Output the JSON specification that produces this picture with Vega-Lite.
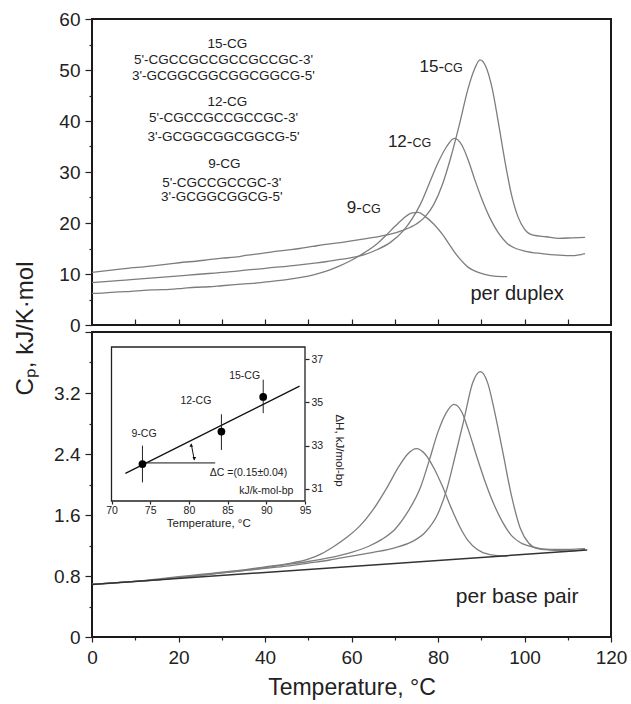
{
  "$schema": "https://vega.github.io/schema/vega-lite/v6.json",
  "background": "white",
  "padding": {"left": 12, "top": 9, "right": 2, "bottom": 2},
  "bounds": "flush",
  "spacing": 7,
  "config": {
    "font": "Liberation Sans",
    "view": {"stroke": "#1a1a1a", "strokeWidth": 2},
    "axis": {
      "grid": false, "domain": false,
      "labelFont": "Liberation Sans", "titleFont": "Liberation Sans",
      "labelColor": "#222", "titleColor": "#222", "tickColor": "#222",
      "titleFontWeight": "normal", "labelFontSize": 19, "titleFontSize": 24,
      "tickSize": 7, "labelPadding": 5, "labelFlush": false, "labelOverlap": false, "tickWidth": 1.2
    },
    "text": {"color": "#222", "font": "Liberation Sans"}
  },
  "datasets": {
    "duplex": [
      {"s":"15","T":0,"Cp":10.3},{"s":"15","T":3,"Cp":10.6},{"s":"15","T":6,"Cp":10.9},{"s":"15","T":9,"Cp":11.2},{"s":"15","T":12,"Cp":11.4},{"s":"15","T":15,"Cp":11.7},{"s":"15","T":18,"Cp":12.0},{"s":"15","T":21,"Cp":12.3},{"s":"15","T":24,"Cp":12.5},{"s":"15","T":27,"Cp":12.8},{"s":"15","T":30,"Cp":13.1},{"s":"15","T":33,"Cp":13.3},{"s":"15","T":36,"Cp":13.7},{"s":"15","T":39,"Cp":14.0},{"s":"15","T":42,"Cp":14.4},{"s":"15","T":45,"Cp":14.7},{"s":"15","T":48,"Cp":15.0},{"s":"15","T":51,"Cp":15.4},{"s":"15","T":54,"Cp":15.8},{"s":"15","T":57,"Cp":16.1},{"s":"15","T":60,"Cp":16.5},{"s":"15","T":63,"Cp":16.9},{"s":"15","T":66,"Cp":17.3},{"s":"15","T":69,"Cp":17.8},{"s":"15","T":72,"Cp":18.6},{"s":"15","T":75,"Cp":19.8},{"s":"15","T":77,"Cp":21.2},{"s":"15","T":79,"Cp":23.6},{"s":"15","T":81,"Cp":27.5},{"s":"15","T":83,"Cp":33.0},{"s":"15","T":85,"Cp":39.5},{"s":"15","T":87,"Cp":46.5},{"s":"15","T":88.5,"Cp":50.3},{"s":"15","T":89.7,"Cp":52.0},{"s":"15","T":91,"Cp":50.8},{"s":"15","T":92.5,"Cp":46.5},{"s":"15","T":94,"Cp":39.5},{"s":"15","T":95.5,"Cp":32.0},{"s":"15","T":97,"Cp":25.5},{"s":"15","T":98.5,"Cp":21.2},{"s":"15","T":100,"Cp":18.8},{"s":"15","T":102,"Cp":17.6},{"s":"15","T":105,"Cp":17.3},{"s":"15","T":108,"Cp":17.0},{"s":"15","T":111,"Cp":17.1},{"s":"15","T":114,"Cp":17.2},
      {"s":"12","T":0,"Cp":8.3},{"s":"12","T":3,"Cp":8.5},{"s":"12","T":6,"Cp":8.7},{"s":"12","T":9,"Cp":8.9},{"s":"12","T":12,"Cp":9.1},{"s":"12","T":15,"Cp":9.3},{"s":"12","T":18,"Cp":9.5},{"s":"12","T":21,"Cp":9.7},{"s":"12","T":24,"Cp":9.9},{"s":"12","T":27,"Cp":10.1},{"s":"12","T":30,"Cp":10.3},{"s":"12","T":33,"Cp":10.5},{"s":"12","T":36,"Cp":10.8},{"s":"12","T":39,"Cp":11.0},{"s":"12","T":42,"Cp":11.3},{"s":"12","T":45,"Cp":11.5},{"s":"12","T":48,"Cp":11.8},{"s":"12","T":51,"Cp":12.1},{"s":"12","T":54,"Cp":12.4},{"s":"12","T":57,"Cp":12.8},{"s":"12","T":60,"Cp":13.2},{"s":"12","T":63,"Cp":13.8},{"s":"12","T":66,"Cp":14.8},{"s":"12","T":69,"Cp":16.2},{"s":"12","T":72,"Cp":18.5},{"s":"12","T":74,"Cp":20.8},{"s":"12","T":76,"Cp":23.8},{"s":"12","T":78,"Cp":27.8},{"s":"12","T":80,"Cp":31.8},{"s":"12","T":82,"Cp":35.0},{"s":"12","T":83.8,"Cp":36.6},{"s":"12","T":85.5,"Cp":35.3},{"s":"12","T":87,"Cp":32.3},{"s":"12","T":88.5,"Cp":28.5},{"s":"12","T":90,"Cp":25.0},{"s":"12","T":92,"Cp":21.0},{"s":"12","T":94,"Cp":18.0},{"s":"12","T":96,"Cp":16.0},{"s":"12","T":98,"Cp":15.0},{"s":"12","T":100,"Cp":14.5},{"s":"12","T":104,"Cp":14.0},{"s":"12","T":108,"Cp":13.7},{"s":"12","T":111,"Cp":13.6},{"s":"12","T":114,"Cp":14.0},
      {"s":"9","T":0,"Cp":6.2},{"s":"9","T":3,"Cp":6.3},{"s":"9","T":6,"Cp":6.5},{"s":"9","T":9,"Cp":6.6},{"s":"9","T":12,"Cp":6.8},{"s":"9","T":15,"Cp":6.9},{"s":"9","T":18,"Cp":7.0},{"s":"9","T":21,"Cp":7.2},{"s":"9","T":24,"Cp":7.4},{"s":"9","T":27,"Cp":7.5},{"s":"9","T":30,"Cp":7.7},{"s":"9","T":33,"Cp":7.9},{"s":"9","T":36,"Cp":8.1},{"s":"9","T":39,"Cp":8.3},{"s":"9","T":42,"Cp":8.6},{"s":"9","T":45,"Cp":8.9},{"s":"9","T":48,"Cp":9.3},{"s":"9","T":51,"Cp":9.8},{"s":"9","T":54,"Cp":10.5},{"s":"9","T":57,"Cp":11.5},{"s":"9","T":60,"Cp":12.7},{"s":"9","T":63,"Cp":14.2},{"s":"9","T":66,"Cp":16.0},{"s":"9","T":68,"Cp":17.6},{"s":"9","T":70,"Cp":19.3},{"s":"9","T":72,"Cp":20.9},{"s":"9","T":74,"Cp":22.0},{"s":"9","T":75.5,"Cp":22.1},{"s":"9","T":77,"Cp":21.3},{"s":"9","T":79,"Cp":19.8},{"s":"9","T":81,"Cp":17.8},{"s":"9","T":83,"Cp":15.3},{"s":"9","T":85,"Cp":13.0},{"s":"9","T":87,"Cp":11.3},{"s":"9","T":89,"Cp":10.4},{"s":"9","T":91,"Cp":9.9},{"s":"9","T":93,"Cp":9.6},{"s":"9","T":96,"Cp":9.5}
    ],
    "bp": [
      {"s":"9","T":0,"Cp":0.69},{"s":"9","T":5,"Cp":0.71},{"s":"9","T":10,"Cp":0.73},{"s":"9","T":15,"Cp":0.76},{"s":"9","T":20,"Cp":0.79},{"s":"9","T":25,"Cp":0.82},{"s":"9","T":30,"Cp":0.85},{"s":"9","T":35,"Cp":0.88},{"s":"9","T":40,"Cp":0.92},{"s":"9","T":45,"Cp":0.96},{"s":"9","T":50,"Cp":1.02},{"s":"9","T":53,"Cp":1.09},{"s":"9","T":56,"Cp":1.19},{"s":"9","T":59,"Cp":1.31},{"s":"9","T":62,"Cp":1.46},{"s":"9","T":65,"Cp":1.67},{"s":"9","T":68,"Cp":1.94},{"s":"9","T":71,"Cp":2.24},{"s":"9","T":73,"Cp":2.40},{"s":"9","T":75,"Cp":2.47},{"s":"9","T":77,"Cp":2.40},{"s":"9","T":79,"Cp":2.22},{"s":"9","T":81,"Cp":1.98},{"s":"9","T":83,"Cp":1.70},{"s":"9","T":85,"Cp":1.45},{"s":"9","T":87,"Cp":1.26},{"s":"9","T":89,"Cp":1.15},{"s":"9","T":92,"Cp":1.08},{"s":"9","T":96,"Cp":1.06},
      {"s":"12","T":0,"Cp":0.69},{"s":"12","T":5,"Cp":0.71},{"s":"12","T":10,"Cp":0.73},{"s":"12","T":15,"Cp":0.75},{"s":"12","T":20,"Cp":0.78},{"s":"12","T":25,"Cp":0.81},{"s":"12","T":30,"Cp":0.84},{"s":"12","T":35,"Cp":0.87},{"s":"12","T":40,"Cp":0.91},{"s":"12","T":45,"Cp":0.95},{"s":"12","T":50,"Cp":0.99},{"s":"12","T":55,"Cp":1.04},{"s":"12","T":60,"Cp":1.11},{"s":"12","T":64,"Cp":1.19},{"s":"12","T":67,"Cp":1.28},{"s":"12","T":70,"Cp":1.41},{"s":"12","T":73,"Cp":1.64},{"s":"12","T":76,"Cp":1.97},{"s":"12","T":78,"Cp":2.32},{"s":"12","T":80,"Cp":2.69},{"s":"12","T":82,"Cp":2.95},{"s":"12","T":83.7,"Cp":3.05},{"s":"12","T":85.5,"Cp":2.95},{"s":"12","T":87,"Cp":2.72},{"s":"12","T":89,"Cp":2.36},{"s":"12","T":91,"Cp":2.02},{"s":"12","T":93,"Cp":1.73},{"s":"12","T":95,"Cp":1.50},{"s":"12","T":97,"Cp":1.33},{"s":"12","T":99,"Cp":1.24},{"s":"12","T":102,"Cp":1.18},{"s":"12","T":106,"Cp":1.15},{"s":"12","T":110,"Cp":1.15},{"s":"12","T":114,"Cp":1.16},
      {"s":"15","T":0,"Cp":0.69},{"s":"15","T":5,"Cp":0.71},{"s":"15","T":10,"Cp":0.73},{"s":"15","T":15,"Cp":0.75},{"s":"15","T":20,"Cp":0.78},{"s":"15","T":25,"Cp":0.81},{"s":"15","T":30,"Cp":0.84},{"s":"15","T":35,"Cp":0.87},{"s":"15","T":40,"Cp":0.90},{"s":"15","T":45,"Cp":0.93},{"s":"15","T":50,"Cp":0.97},{"s":"15","T":55,"Cp":1.01},{"s":"15","T":60,"Cp":1.06},{"s":"15","T":65,"Cp":1.11},{"s":"15","T":70,"Cp":1.17},{"s":"15","T":74,"Cp":1.25},{"s":"15","T":77,"Cp":1.37},{"s":"15","T":80,"Cp":1.62},{"s":"15","T":82,"Cp":1.93},{"s":"15","T":84,"Cp":2.38},{"s":"15","T":86,"Cp":2.85},{"s":"15","T":88,"Cp":3.33},{"s":"15","T":89.8,"Cp":3.48},{"s":"15","T":91.5,"Cp":3.33},{"s":"15","T":93,"Cp":2.98},{"s":"15","T":95,"Cp":2.42},{"s":"15","T":97,"Cp":1.85},{"s":"15","T":99,"Cp":1.43},{"s":"15","T":101,"Cp":1.23},{"s":"15","T":103,"Cp":1.16},{"s":"15","T":106,"Cp":1.14},{"s":"15","T":110,"Cp":1.13},{"s":"15","T":114,"Cp":1.15}
    ],
    "base": [{"T":0,"Cp":0.69},{"T":114.5,"Cp":1.14}],
    "peakLabels": [
      {"T":81.4,"Cp":49.7,"num":"15-","cg":"CG"},
      {"T":74.1,"Cp":35.0,"num":"12-","cg":"CG"},
      {"T":62.4,"Cp":22.0,"num":"9-","cg":"CG"}
    ],
    "sequences": [
      {"T":31.3,"Cp":55.1,"text":"15-CG"},
      {"T":30.4,"Cp":52.0,"text":"5'-CGCCGCCGCCGCCGC-3'"},
      {"T":30.4,"Cp":48.8,"text":"3'-GCGGCGGCGGCGGCG-5'"},
      {"T":31.3,"Cp":43.8,"text":"12-CG"},
      {"T":30.4,"Cp":40.5,"text":"5'-CGCCGCCGCCGC-3'"},
      {"T":30.4,"Cp":36.9,"text":"3'-GCGGCGGCGGCG-5'"},
      {"T":30.6,"Cp":31.5,"text":"9-CG"},
      {"T":30.0,"Cp":27.9,"text":"5'-CGCCGCCGC-3'"},
      {"T":30.0,"Cp":25.1,"text":"3'-GCGGCGGCG-5'"}
    ],
    "inset": [
      {"t":74.0,"h":32.15,"lo":31.3,"hi":33.0,"label":"9-CG"},
      {"t":84.2,"h":33.65,"lo":32.8,"hi":34.45,"label":"12-CG"},
      {"t":89.6,"h":35.25,"lo":34.5,"hi":36.05,"label":"15-CG"}
    ],
    "insetText": [
      {"t":74.2,"h":33.55,"text":"9-CG"},
      {"t":80.9,"h":35.08,"text":"12-CG"},
      {"t":87.2,"h":36.2,"text":"15-CG"},
      {"t":87.7,"h":31.72,"text":"ΔC =(0.15±0.04)"},
      {"t":90.0,"h":30.92,"text":"kJ/k-mol-bp"}
    ]
  },
  "resolve": {"scale": {"x": "independent", "y": "independent"}},
  "vconcat": [
    {
      "width": 519,
      "height": 306,
      "resolve": {"axis": {"y": "independent"}},
      "layer": [
        {
          "data": {"name": "duplex"},
          "mark": {"type": "line", "color": "#7d7d7d", "strokeWidth": 1.3, "interpolate": "monotone"},
          "encoding": {
            "x": {"field": "T", "type": "quantitative", "scale": {"domain": [0, 120], "nice": false, "zero": false},
                  "axis": {"orient": "bottom", "values": [10,20,30,40,50,60,70,80,90,100,110], "labels": false, "tickSize": -6, "title": null}},
            "y": {"field": "Cp", "type": "quantitative", "scale": {"domain": [0, 60], "nice": false},
                  "axis": {"orient": "left", "values": [0,10,20,30,40,50,60], "title": "Cₚ,  kJ/K·mol", "titleX": -67, "titleY": 309, "titleAngle": -90, "titleAlign": "center", "titleBaseline": "middle", "titleFontSize": 24}},
            "detail": {"field": "s", "type": "nominal"}
          }
        },
        {
          "data": {"name": "duplex"},
          "mark": {"type": "line", "strokeOpacity": 0},
          "encoding": {
            "x": {"field": "T", "type": "quantitative"},
            "y": {"field": "Cp", "type": "quantitative", "axis": {"orient": "left", "values": [5,15,25,35,45,55], "labels": false, "tickSize": 3, "title": null}},
            "detail": {"field": "s", "type": "nominal"}
          }
        },
        {
          "data": {"name": "peakLabels"},
          "mark": {"type": "text", "fontSize": 17, "align": "right", "baseline": "alphabetic"},
          "encoding": {"x": {"field": "T", "type": "quantitative"}, "y": {"field": "Cp", "type": "quantitative", "axis": null}, "text": {"field": "num"}}
        },
        {
          "data": {"name": "peakLabels"},
          "mark": {"type": "text", "fontSize": 12.5, "align": "left", "baseline": "alphabetic"},
          "encoding": {"x": {"field": "T", "type": "quantitative"}, "y": {"field": "Cp", "type": "quantitative", "axis": null}, "text": {"field": "cg"}}
        },
        {
          "data": {"name": "sequences"},
          "mark": {"type": "text", "fontSize": 13.5, "align": "center", "baseline": "middle"},
          "encoding": {"x": {"field": "T", "type": "quantitative"}, "y": {"field": "Cp", "type": "quantitative", "axis": null}, "text": {"field": "text"}}
        },
        {
          "data": {"values": [{"T": 98.3, "Cp": 6.0, "text": "per duplex"}]},
          "mark": {"type": "text", "fontSize": 20, "align": "center", "baseline": "middle"},
          "encoding": {"x": {"field": "T", "type": "quantitative"}, "y": {"field": "Cp", "type": "quantitative", "axis": null}, "text": {"field": "text"}}
        }
      ]
    },
    {
      "width": 519,
      "height": 305,
      "resolve": {"scale": {"x": "independent", "y": "independent"}, "axis": {"x": "independent", "y": "independent"}},
      "layer": [
        {
          "resolve": {"axis": {"x": "independent", "y": "independent"}},
          "layer": [
            {
              "data": {"name": "bp"},
              "mark": {"type": "line", "color": "#7d7d7d", "strokeWidth": 1.3, "interpolate": "monotone"},
              "encoding": {
                "x": {"field": "T", "type": "quantitative", "scale": {"domain": [0, 120], "nice": false, "zero": false},
                      "axis": {"orient": "bottom", "values": [0,20,40,60,80,100,120], "tickSize": 5, "labelPadding": 6, "title": "Temperature, °C", "titleFontSize": 23, "titlePadding": 9}},
                "y": {"field": "Cp", "type": "quantitative", "scale": {"domain": [0, 4], "nice": false},
                      "axis": {"orient": "left", "values": [0,0.8,1.6,2.4,3.2,4], "format": ".1~f", "labelExpr": "datum.value > 3.9 ? '' : datum.label", "title": null}},
                "detail": {"field": "s", "type": "nominal"}
              }
            },
            {
              "data": {"name": "base"},
              "mark": {"type": "line", "strokeOpacity": 0},
              "encoding": {
                "x": {"field": "T", "type": "quantitative", "axis": {"orient": "bottom", "values": [10,30,50,70,90,110], "labels": false, "tickSize": 3, "title": null}},
                "y": {"field": "Cp", "type": "quantitative", "axis": {"orient": "left", "values": [0.4,1.2,2.0,2.8,3.6], "labels": false, "tickSize": 3, "title": null}}
              }
            },
            {
              "data": {"name": "base"},
              "mark": {"type": "line", "color": "#333333", "strokeWidth": 1.5},
              "encoding": {"x": {"field": "T", "type": "quantitative", "axis": null}, "y": {"field": "Cp", "type": "quantitative", "axis": null}}
            },
            {
              "data": {"values": [{"T": 98.3, "Cp": 0.52, "text": "per base pair"}]},
              "mark": {"type": "text", "fontSize": 21, "align": "center", "baseline": "middle"},
              "encoding": {"x": {"field": "T", "type": "quantitative", "axis": null}, "y": {"field": "Cp", "type": "quantitative", "axis": null}, "text": {"field": "text"}}
            }
          ]
        },
        {
          "layer": [
            {
              "data": {"values": [{}]},
              "mark": {"type": "rect", "fillOpacity": 0, "stroke": "#222", "strokeWidth": 1.3},
              "encoding": {
                "x": {"datum": 70, "type": "quantitative", "scale": {"domain": [70, 95], "range": [19.5, 213], "nice": false, "zero": false},
                      "axis": {"orient": "bottom", "offset": -136, "values": [70,75,80,85,90,95], "title": "Temperature, °C", "labelFontSize": 10.5, "titleFontSize": 11.5, "tickSize": 3, "labelPadding": 1, "titlePadding": 2}},
                "x2": {"datum": 95},
                "y": {"datum": 30.44, "type": "quantitative", "scale": {"domain": [30.44, 37.56], "range": [169, 15], "nice": false, "zero": false},
                      "axis": {"orient": "right", "offset": -306, "values": [31,33,35,37], "title": "ΔH, kJ/mol-bp", "titleAngle": 90, "titleX": 33, "titleY": 118, "titleAlign": "center", "titleBaseline": "middle", "labelFontSize": 10.5, "titleFontSize": 11.5, "tickSize": 4, "labelPadding": 2}},
                "y2": {"datum": 37.56}
              }
            },
            {
              "data": {"values": [{"t": 71.8, "h": 31.72}, {"t": 94.3, "h": 35.75}]},
              "mark": {"type": "line", "color": "#111", "strokeWidth": 1.3},
              "encoding": {"x": {"field": "t", "type": "quantitative"}, "y": {"field": "h", "type": "quantitative"}}
            },
            {
              "data": {"values": [{"t": 74, "t2": 83.4, "h": 32.2}]},
              "mark": {"type": "rule", "color": "#111", "strokeWidth": 1},
              "encoding": {"x": {"field": "t", "type": "quantitative"}, "x2": {"field": "t2"}, "y": {"field": "h", "type": "quantitative"}}
            },
            {
              "data": {"values": [{"t": 80.3, "h": 33.08}, {"t": 80.7, "h": 32.33}]},
              "mark": {"type": "line", "color": "#111", "strokeWidth": 1},
              "encoding": {"x": {"field": "t", "type": "quantitative"}, "y": {"field": "h", "type": "quantitative"}}
            },
            {
              "data": {"values": [{"t": 80.3, "h": 33.02}]},
              "mark": {"type": "point", "shape": "triangle-up", "filled": true, "color": "#111", "size": 14, "opacity": 1},
              "encoding": {"x": {"field": "t", "type": "quantitative"}, "y": {"field": "h", "type": "quantitative"}}
            },
            {
              "data": {"values": [{"t": 80.7, "h": 32.4}]},
              "mark": {"type": "point", "shape": "triangle-down", "filled": true, "color": "#111", "size": 14, "opacity": 1},
              "encoding": {"x": {"field": "t", "type": "quantitative"}, "y": {"field": "h", "type": "quantitative"}}
            },
            {
              "data": {"name": "inset"},
              "mark": {"type": "rule", "color": "#222", "strokeWidth": 1},
              "encoding": {"x": {"field": "t", "type": "quantitative"}, "y": {"field": "lo", "type": "quantitative"}, "y2": {"field": "hi"}}
            },
            {
              "data": {"name": "inset"},
              "mark": {"type": "circle", "color": "#000", "size": 60, "opacity": 1},
              "encoding": {"x": {"field": "t", "type": "quantitative"}, "y": {"field": "h", "type": "quantitative"}}
            },
            {
              "data": {"name": "insetText"},
              "mark": {"type": "text", "fontSize": 10.5, "align": "center", "baseline": "middle"},
              "encoding": {"x": {"field": "t", "type": "quantitative"}, "y": {"field": "h", "type": "quantitative"}, "text": {"field": "text"}}
            }
          ]
        }
      ]
    }
  ]
}
